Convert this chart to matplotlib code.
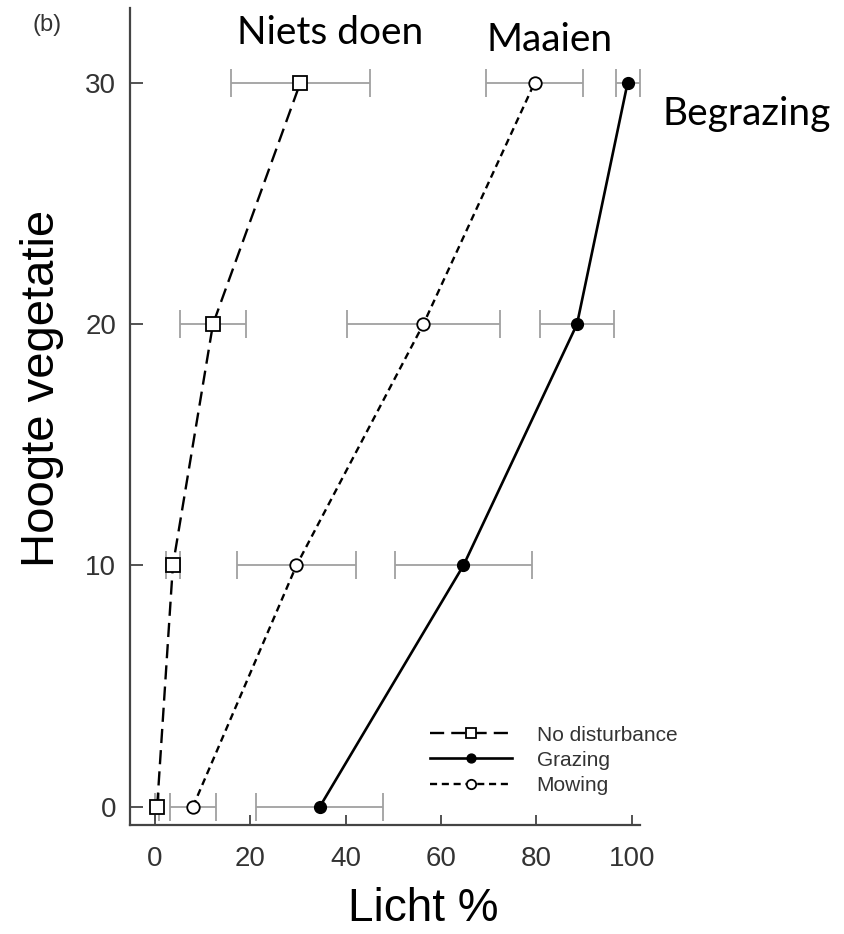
import numpy as np
import matplotlib
matplotlib.use("Agg")
import matplotlib.pyplot as plt

plt.rcParams['font.family'] = ['Liberation Sans', 'DejaVu Sans']

# hoogte (y) en licht % (x) per behandeling
hoogte = [0, 10, 20, 30]

licht_niets = [0.5, 3.8, 12.2, 30.5]
err_niets = [0.4, 1.4, 7.0, 14.6]

licht_graze = [34.6, 64.7, 88.5, 99.1]
err_graze = [13.3, 14.3, 7.8, 2.5]

licht_maai = [8.0, 29.7, 56.3, 79.6]
err_maai = [4.8, 12.4, 16.0, 10.2]

x_ticks = [0, 20, 40, 60, 80, 100]
y_ticks = [0, 10, 20, 30]

fig = plt.figure(figsize=(8.45, 9.34), dpi=100)
ax = fig.add_axes([0.1538, 0.1167, 0.6036, 0.8747])

ebar = dict(fmt='none', ecolor='#a0a0a0', elinewidth=1.3, capsize=10, capthick=1.3, zorder=1)
ax.errorbar(licht_niets, hoogte, xerr=err_niets, **ebar)
ax.errorbar(licht_graze, hoogte, xerr=err_graze, **ebar)
ax.errorbar(licht_maai, hoogte, xerr=err_maai, **ebar)

ax.plot(licht_niets, hoogte, color='black', lw=1.7, dashes=(6, 3), marker='s', ms=9.5,
        mfc='white', mec='black', mew=1.3, label='No disturbance', zorder=3)
ax.plot(licht_graze, hoogte, color='black', lw=1.9, marker='o', ms=8.5,
        mfc='black', mec='black', label='Grazing', zorder=3)
ax.plot(licht_maai, hoogte, color='black', lw=1.7, dashes=(3, 2), marker='o', ms=9,
        mfc='white', mec='black', mew=1.3, label='Mowing', zorder=3)

ax.set_xlim(-5.2, 101.7)
ax.set_ylim(-0.76, 33.1)
ax.set_xticks(x_ticks)
ax.set_yticks(y_ticks)

for s in ['top', 'right']:
    ax.spines[s].set_visible(False)
for s in ['left', 'bottom']:
    ax.spines[s].set_color('#444444')
    ax.spines[s].set_linewidth(1.6)

ax.tick_params(axis='y', direction='in', length=9, width=1.3, color='#444444',
               labelsize=20, labelcolor='#333333', pad=10)
ax.tick_params(axis='x', direction='in', length=7, width=1.3, color='#444444',
               labelsize=20, labelcolor='#333333', pad=15)

ax.set_ylabel('Hoogte vegetatie', fontsize=34, va='center')
ax.yaxis.set_label_coords(-0.1725, 0.534)
ax.set_xlabel('Licht %', fontsize=33, va='baseline')
ax.xaxis.set_label_coords(0.575, -0.1175)

leg = ax.legend(loc='center left', bbox_to_anchor=(0.497, 0.186), bbox_transform=fig.transFigure,
                frameon=False, fontsize=15, handlelength=3.9, handletextpad=1.2,
                labelspacing=0.3, borderpad=0, markerscale=0.75)
for t in leg.get_texts():
    t.set_color('#333333')

fig.text(47 / 845, 1 - 25 / 934, '(b)', fontsize=17, color='#333333', ha='center', va='center')

fig.text(237 / 845, 1 - 44 / 934, 'Niets doen', family=['Lato', 'DejaVu Sans'], fontsize=28, va='baseline')
fig.text(487 / 845, 1 - 51 / 934, 'Maaien', family=['Lato', 'DejaVu Sans'], fontsize=28, va='baseline')
fig.text(663 / 845, 1 - 125 / 934, 'Begrazing', family=['Lato', 'DejaVu Sans'], fontsize=28, va='baseline')

fig.savefig('out.png', dpi=100)
